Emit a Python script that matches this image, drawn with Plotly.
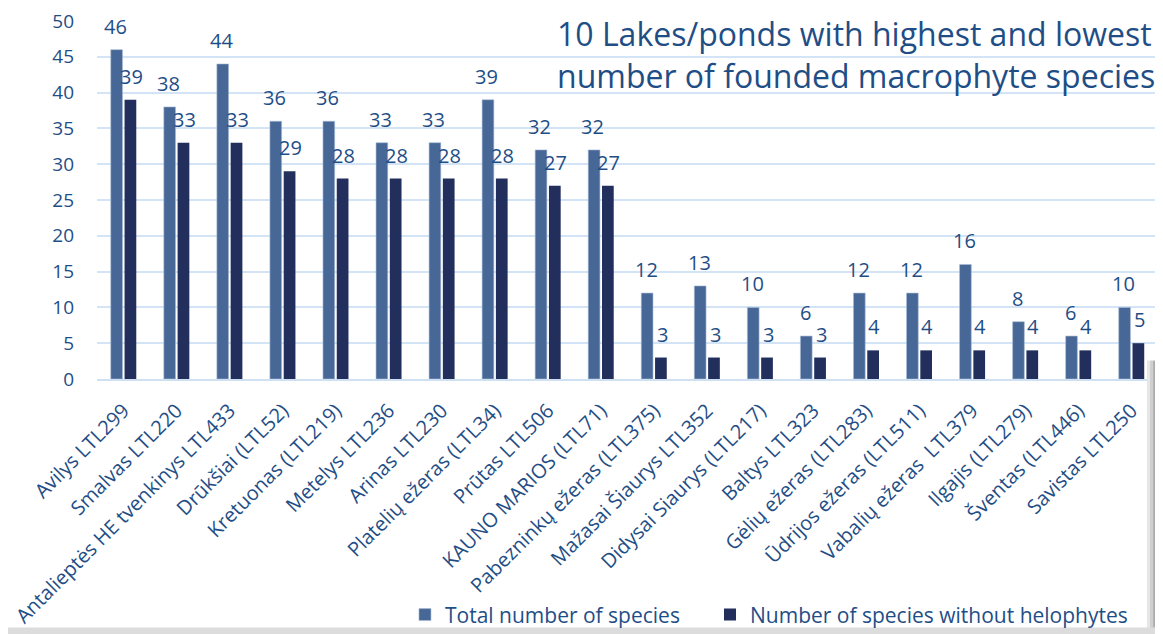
import plotly.graph_objects as go

# Lakes / ponds and counts
lakes = ['Avilys LTL299', 'Smalvas LTL220', 'Antalieptės HE tvenkinys LTL433', 'Drūkšiai (LTL52)',
         'Kretuonas (LTL219)', 'Metelys LTL236', 'Arinas LTL230', 'Platelių ežeras (LTL34)',
         'Prūtas LTL506', 'KAUNO MARIOS (LTL71)', 'Pabezninkų ežeras (LTL375)', 'Mažasai Šiaurys LTL352',
         'Didysai Siaurys (LTL217)', 'Baltys LTL323', 'Gėlių ežeras (LTL283)', 'Ūdrijos ežeras (LTL511)',
         'Vabalių ežeras  LTL379', 'Ilgajis (LTL279)', 'Šventas (LTL446)', 'Savistas LTL250']
total_species = [46, 38, 44, 36, 36, 33, 33, 39, 32, 32, 12, 13, 10, 6, 12, 12, 16, 8, 6, 10]
without_helophytes = [39, 33, 33, 29, 28, 28, 28, 28, 27, 27, 3, 3, 3, 3, 4, 4, 4, 4, 4, 5]

FONT = 'Open Sans, Noto Sans, sans-serif'
TXT = '#1f4e86'
C_TOTAL = '#476796'
C_NOHELO = '#222f5d'

fig = go.Figure()
fig.add_trace(go.Bar(x=lakes, y=total_species, name='Total number of species', legend='legend',
                     marker=dict(color=C_TOTAL, line=dict(color='#a9bcd6', width=0.6))))
fig.add_trace(go.Bar(x=lakes, y=without_helophytes, name='Number of species without helophytes',
                     legend='legend2', marker=dict(color=C_NOHELO, line=dict(width=0))))

# data labels sitting above each bar
for lake, v in zip(lakes, total_species):
    fig.add_annotation(x=lake, y=v, text=str(v), showarrow=False, xshift=-8, yshift=8,
                       yanchor='bottom', font=dict(family=FONT, size=20, color=TXT))
for lake, v in zip(lakes, without_helophytes):
    fig.add_annotation(x=lake, y=v, text=str(v), showarrow=False, xshift=8, yshift=8,
                       yanchor='bottom', font=dict(family=FONT, size=20, color=TXT))

# title in the top right corner
fig.add_annotation(xref='paper', yref='paper', x=0.999, y=1.031, xanchor='right', yanchor='top',
                   text='10 Lakes/ponds with highest and lowest<br>number of founded macrophyte species',
                   showarrow=False, align='left',
                   font=dict(family=FONT, size=32, color=TXT))

# grey window shadow at the bottom right of the screenshot
for x0, x1, col in [(0.9896, 0.9925, '#e6e6e6'), (0.9925, 0.9953, '#cfcfcf'),
                    (0.9953, 0.9972, '#b5b5b5')]:
    fig.add_shape(type='rect', xref='paper', yref='paper', x0=x0, x1=x1, y0=-0.72, y1=0.052,
                  fillcolor=col, line_width=0, layer='above')
fig.add_shape(type='rect', xref='paper', yref='paper', x0=-0.2, x1=1.1, y0=-0.72, y1=-0.694,
              fillcolor='#dcdcdc', line_width=0, layer='above')
fig.add_shape(type='rect', xref='paper', yref='paper', x0=0.9972, x1=1.1, y0=-0.69, y1=0.048,
              fillcolor='white', line=dict(color='#a0a0a0', width=1), layer='above')

legend_style = dict(orientation='h', xref='container', yref='container', xanchor='left',
                    y=0.0304, yanchor='middle', itemwidth=30, bgcolor='rgba(0,0,0,0)',
                    font=dict(family=FONT, size=21, color=TXT))

fig.update_layout(
    width=1155, height=626,
    margin=dict(l=89, r=5, t=13, b=255),
    paper_bgcolor='white', plot_bgcolor='white',
    barmode='group', bargap=0.48, bargroupgap=0.15,
    font=dict(family=FONT, color=TXT),
    showlegend=True,
    legend=dict(x=0.3437, **legend_style),
    legend2=dict(x=0.6078, **legend_style),
    xaxis=dict(tickangle=-45, tickfont=dict(family=FONT, size=20, color=TXT), automargin=False,
               showgrid=False, linecolor='#cfe0f2', linewidth=2, ticks='', ticklabelstandoff=10,
               ticklabeloverflow='allow'),
    yaxis=dict(range=[0, 50], dtick=5, tickfont=dict(family=FONT, size=19, color=TXT),
               automargin=False, gridcolor='#d3e4f6', gridwidth=2, zeroline=False,
               ticklabelstandoff=22, ticklabeloverflow='allow'),
)

fig.write_html('out.html')
